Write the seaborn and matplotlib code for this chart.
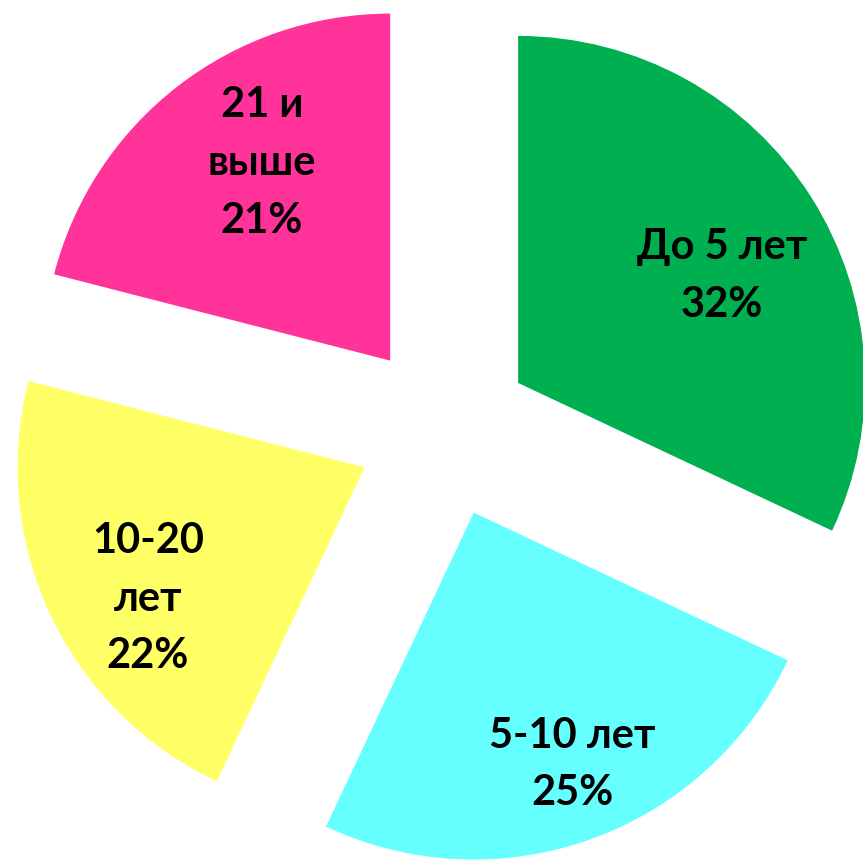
import numpy as np
import matplotlib
matplotlib.use("Agg")
import matplotlib.pyplot as plt
import seaborn as sns

sns.set_style("white")
plt.rcParams["font.family"] = ["Lato", "Open Sans", "DejaVu Sans"]

# данные
labels = ["До 5 лет", "5-10 лет", "10-20\nлет", "21 и\nвыше"]
shares = [32, 25, 22, 21]
colors = ["#00B050", "#66FFFF", "#FFFF66", "#FF3399"]

# положение подписи: расстояние от вершины сектора (доли радиуса) и сдвиг угла
label_dist = [0.664, 0.78, 0.73, 0.679]
label_turn = [-4.8, 1.6, 6.0, -4.8]

fig = plt.figure(figsize=(8.63, 8.61), dpi=100)
ax = fig.add_axes([0, 0, 1, 1])

wedges, _ = ax.pie(
    shares,
    colors=colors,
    startangle=90,
    counterclock=False,
    explode=[0.253] * len(shares),
    radius=1.0,
    wedgeprops=dict(linewidth=0),
)

for w, lab, val, d, t in zip(wedges, labels, shares, label_dist, label_turn):
    mid = np.deg2rad((w.theta1 + w.theta2) / 2 + t)
    cx, cy = w.center
    ax.text(cx + d * np.cos(mid), cy + d * np.sin(mid), f"{lab}\n{val}%",
            ha="center", va="center", fontsize=30, fontweight="bold",
            linespacing=1.63, color="black")

ax.set_aspect("equal", adjustable="box")
ax.set_xlim(-1.2795, 1.2075)
ax.set_ylim(-1.242, 1.239)
ax.axis("off")

fig.savefig("out.png", dpi=100)
